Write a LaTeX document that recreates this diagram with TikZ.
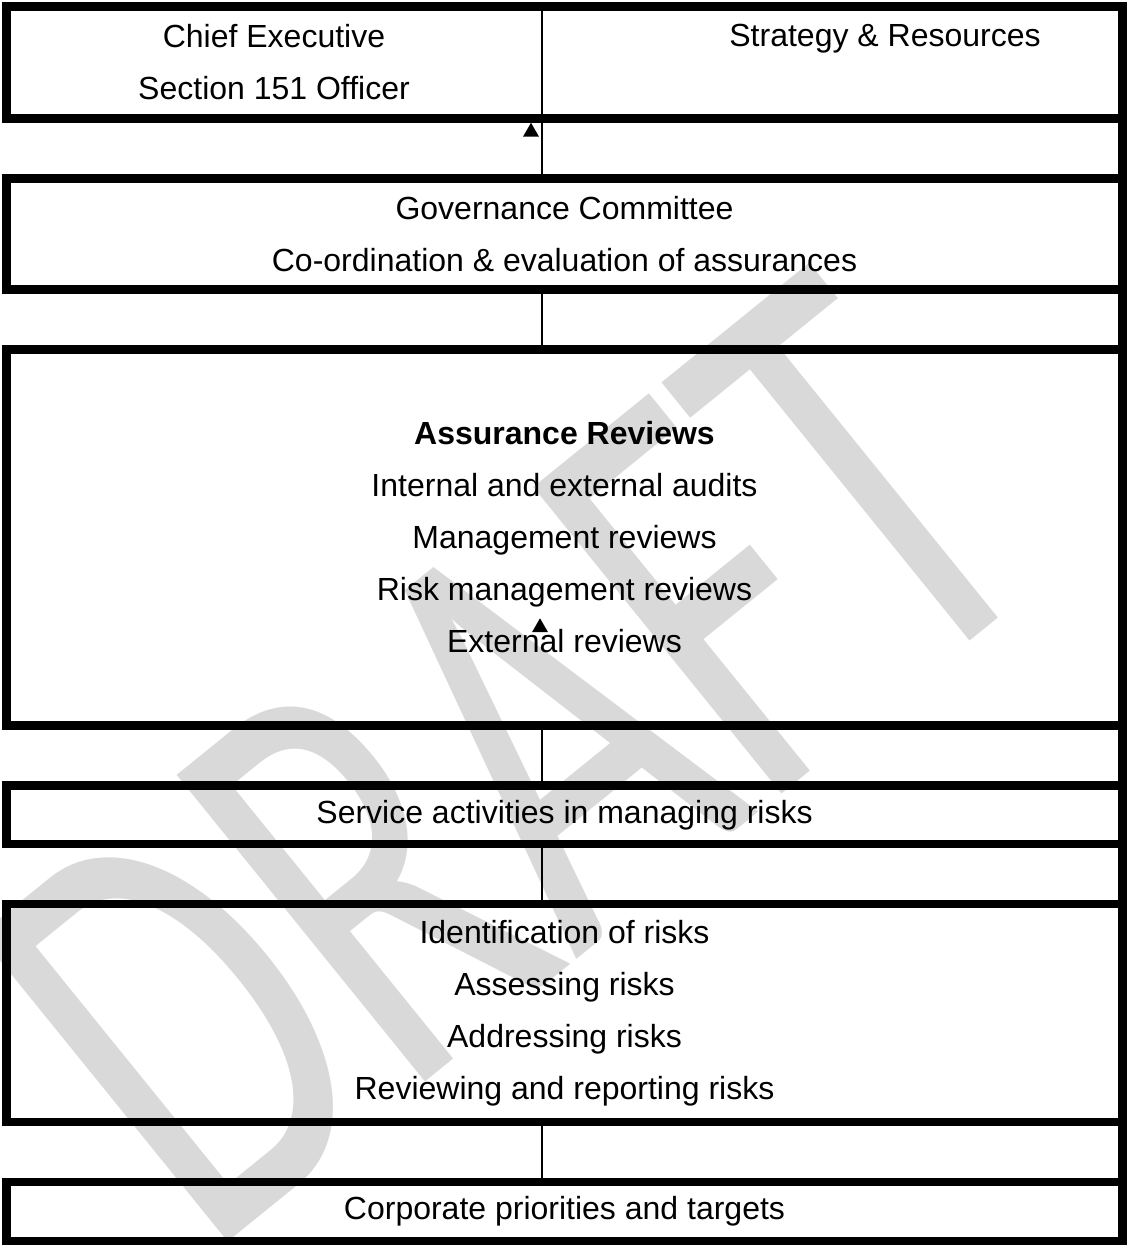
\documentclass[tikz,border=0pt]{standalone}
\usepackage{fontspec}
\setmainfont{Liberation Sans}
\newfontfamily\markfont{Carlito}
\usetikzlibrary{positioning, shapes.geometric, backgrounds}

\begin{document}
\begin{tikzpicture}[node distance=30pt, font=\fontsize{16}{26}\selectfont]

\tikzset{
  box/.style={
    rectangle, draw, line width=4.25pt, outer sep=0pt,
    minimum width=558pt, inner sep=0pt, align=center
  },
  link/.style={line width=1.3pt},
  edge/.style={line width=4.25pt},
  arrowtip/.style={
    regular polygon, regular polygon sides=3,
    fill, draw=none, inner sep=0pt, minimum size=9.2pt
  },
  watermark/.style={
    text=black!15, font=\markfont\fontsize{205}{205}\selectfont,
    rotate=39, yscale=1.5
  }
}

\useasboundingbox (0,0) rectangle (563pt,-622.5pt);

% ==========================
% Boxes, top to bottom
% ==========================
\node[box, minimum height=56pt, anchor=north west] (execbox) at (3.25pt,-3.25pt) {};
\node[box, minimum height=55.5pt, below=of execbox] (govbox)
{Governance Committee\\Co-ordination \& evaluation of assurances};
\node[box, minimum height=188pt, below=of govbox] (reviewbox)
{\textbf{Assurance Reviews}\\Internal and external audits\\Management reviews\\
Risk management reviews\\External reviews};
\node[box, minimum height=29.25pt, below=of reviewbox] (servicebox)
{Service activities in managing risks};
\node[box, minimum height=109pt, below=of servicebox] (riskbox)
{Identification of risks\\Assessing risks\\Addressing risks\\Reviewing and reporting risks};
\node[box, minimum height=29.5pt, below=of riskbox] (priobox)
{Corporate priorities and targets};

% top box is split in two cells
\node[align=center] (chief) at ([xshift=-145.25pt]execbox.center) {Chief Executive\\Section 151 Officer};
\node (strategy) at ([xshift=-118.75pt,yshift=-16.25pt]execbox.north east) {Strategy \& Resources};
\draw[link] ([xshift=-11.25pt]execbox.north) -- ([xshift=-11.25pt]execbox.south);

% right edge runs through the gaps
\draw[edge] (execbox.north east) -- (priobox.south east);

% ==========================
% Links between the boxes
% ==========================
\foreach \a/\b in {execbox/govbox, govbox/reviewbox, reviewbox/servicebox,
                   servicebox/riskbox, riskbox/priobox}
  \draw[link] ([xshift=-11.25pt]\a.south) -- ([xshift=-11.25pt]\b.north);

\node[arrowtip, anchor=corner 1] (tipgov) at ([xshift=-16.75pt,yshift=-1.75pt]execbox.south) {};
\node[arrowtip, anchor=corner 1] (tipreview) at ([xshift=-12.25pt,yshift=-40pt]reviewbox.center) {};

% watermark
\begin{scope}[on background layer]
  \node[watermark] (draft) at (255pt,-380pt) {DRAFT};
\end{scope}

\end{tikzpicture}
\end{document}
